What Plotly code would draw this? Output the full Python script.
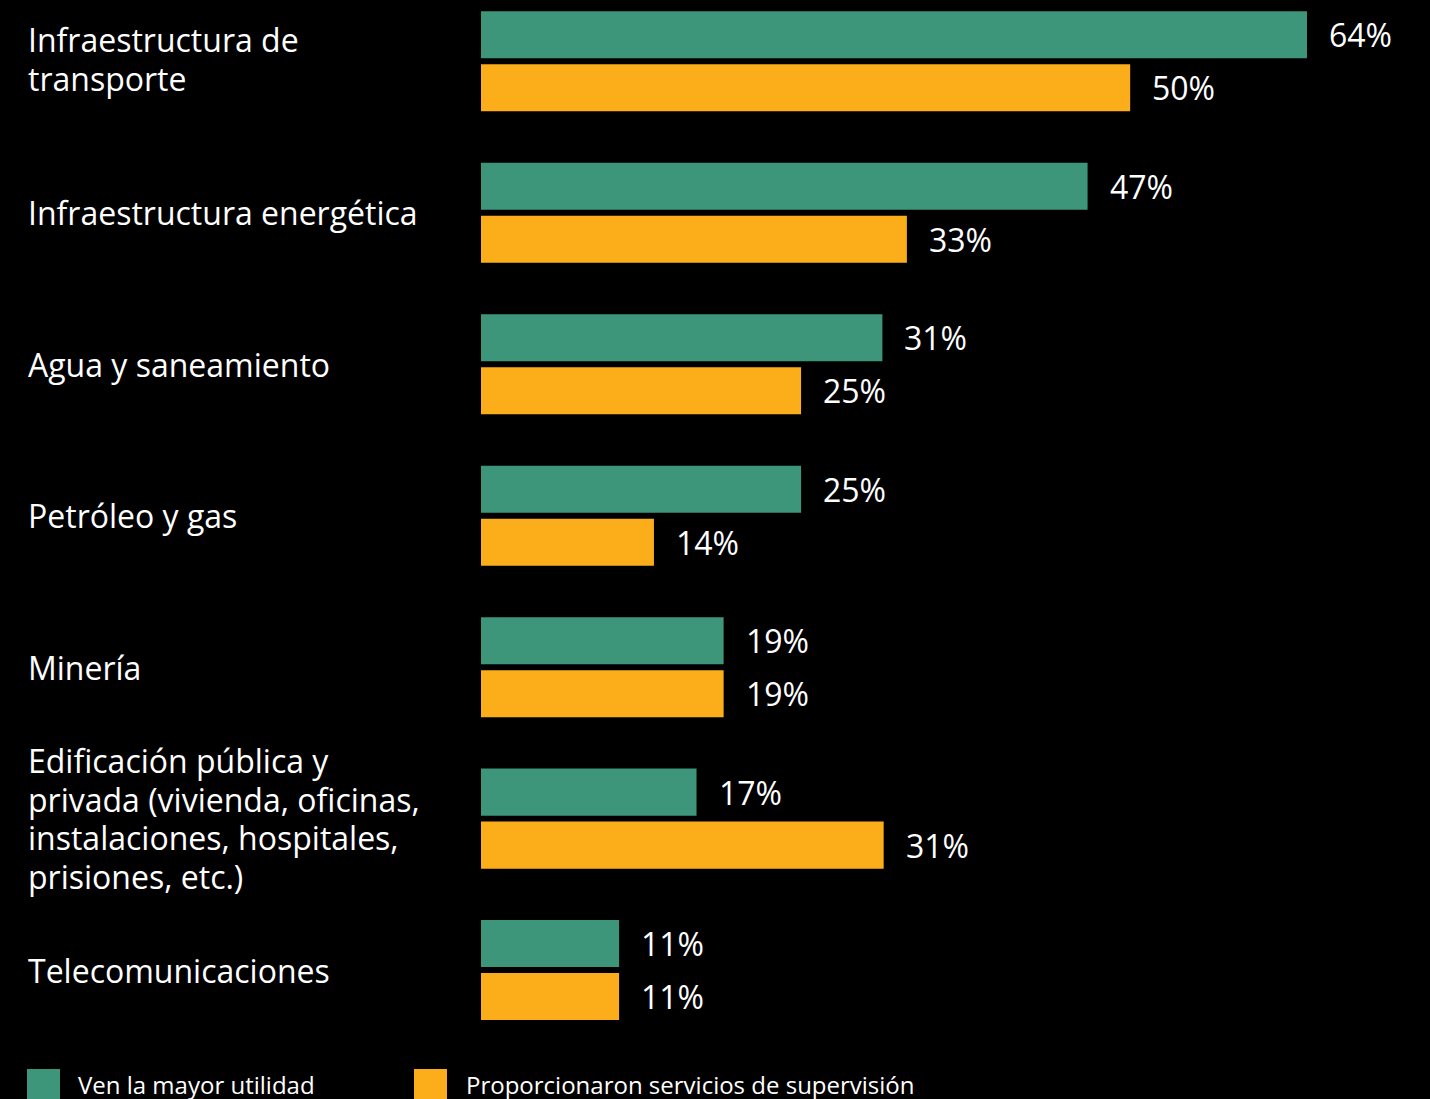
import plotly.graph_objects as go

cat_ids = ["c0", "c1", "c2", "c3", "c4", "c5", "c6"]
category_lines = [
    ["Infraestructura de", "transporte"],
    ["Infraestructura energética"],
    ["Agua y saneamiento"],
    ["Petróleo y gas"],
    ["Minería"],
    ["Edificación pública y", "privada (vivienda, oficinas,", "instalaciones, hospitales,", "prisiones, etc.)"],
    ["Telecomunicaciones"],
]

series_green_name = "Ven la mayor utilidad"
series_orange_name = "Proporcionaron servicios de supervisión"

green_values = [64.0, 47.0, 31.1, 24.8, 18.8, 16.7, 10.7]
orange_values = [50.3, 33.0, 24.8, 13.4, 18.8, 31.2, 10.7]
green_labels = ["64%", "47%", "31%", "25%", "19%", "17%", "11%"]
orange_labels = ["50%", "33%", "25%", "14%", "19%", "31%", "11%"]

GREEN = "#3E967A"
ORANGE = "#FBAE19"
W, H = 1430, 1099
ML, MR, MT, MB = 481, 0, 0, 49
PW = W - ML - MR
PH = H - MT - MB
PX_PER_UNIT = 12.906
XMAX = PW / PX_PER_UNIT
PITCH = 151.46
FIRST_CENTER = 61.33
Y_TOP = -FIRST_CENTER / PITCH
Y_BOT = Y_TOP + PH / PITCH
LINE_H = 38.7
BARGAP = 1 - 106.0 / PITCH

fig = go.Figure()
fig.add_trace(go.Bar(y=cat_ids, x=green_values, orientation="h", name=series_green_name,
                     marker=dict(color=GREEN, line=dict(width=0)), showlegend=False))
fig.add_trace(go.Bar(y=cat_ids, x=orange_values, orientation="h", name=series_orange_name,
                     marker=dict(color=ORANGE, line=dict(width=0)), showlegend=False))

FONT = "Open Sans"
annotations = []
label_shift = {0: 2.0}
for i, (cid, lines) in enumerate(zip(cat_ids, category_lines)):
    n = len(lines)
    for j, line in enumerate(lines):
        ys = ((n - 1) / 2 - j) * LINE_H + label_shift.get(i, 0)
        annotations.append(dict(x=(26 - ML) / PW, xref="paper", y=cid, yref="y", text=line,
                                xanchor="left", yanchor="middle", align="left", showarrow=False,
                                yshift=ys, font=dict(family=FONT, size=32, color="white")))
half = PITCH * (1 - BARGAP) / 4
for cid, v, t in zip(cat_ids, green_values, green_labels):
    annotations.append(dict(x=v, y=cid, xref="x", yref="y", text=t, xanchor="left", yanchor="middle",
                            xshift=20, yshift=half, showarrow=False,
                            font=dict(family=FONT, size=32, color="white")))
for cid, v, t in zip(cat_ids, orange_values, orange_labels):
    annotations.append(dict(x=v, y=cid, xref="x", yref="y", text=t, xanchor="left", yanchor="middle",
                            xshift=20, yshift=-half, showarrow=False,
                            font=dict(family=FONT, size=32, color="white")))


def px_x(p):
    return (p - ML) / PW


def px_y(p):
    return (H - MB - p) / PH


shapes = []
legend_items = [(27, 60, 76, GREEN, series_green_name), (414, 447, 464, ORANGE, series_orange_name)]
for x0, x1, tx, col, name in legend_items:
    shapes.append(dict(type="rect", xref="paper", yref="paper", x0=px_x(x0), x1=px_x(x1),
                       y0=px_y(1069), y1=px_y(1110), fillcolor=col, line=dict(width=0)))
    annotations.append(dict(x=px_x(tx), y=px_y(1084), xref="paper", yref="paper", text=name,
                            xanchor="left", yanchor="middle", showarrow=False,
                            font=dict(family=FONT, size=24, color="white")))

fig.update_layout(
    width=W, height=H,
    margin=dict(l=ML, r=MR, t=MT, b=MB, pad=0),
    paper_bgcolor="black", plot_bgcolor="black",
    barmode="group", bargap=BARGAP, bargroupgap=0.113,
    xaxis=dict(range=[0, XMAX], visible=False, fixedrange=True),
    yaxis=dict(type="category", categoryorder="array", categoryarray=cat_ids,
               range=[Y_BOT, Y_TOP], visible=False, fixedrange=True),
    annotations=annotations, shapes=shapes,
    showlegend=False,
)

fig.write_html("out.html", config={"displayModeBar": False},
               post_script="document.body.style.margin='0';document.body.style.background='black';document.documentElement.style.background='black';")
